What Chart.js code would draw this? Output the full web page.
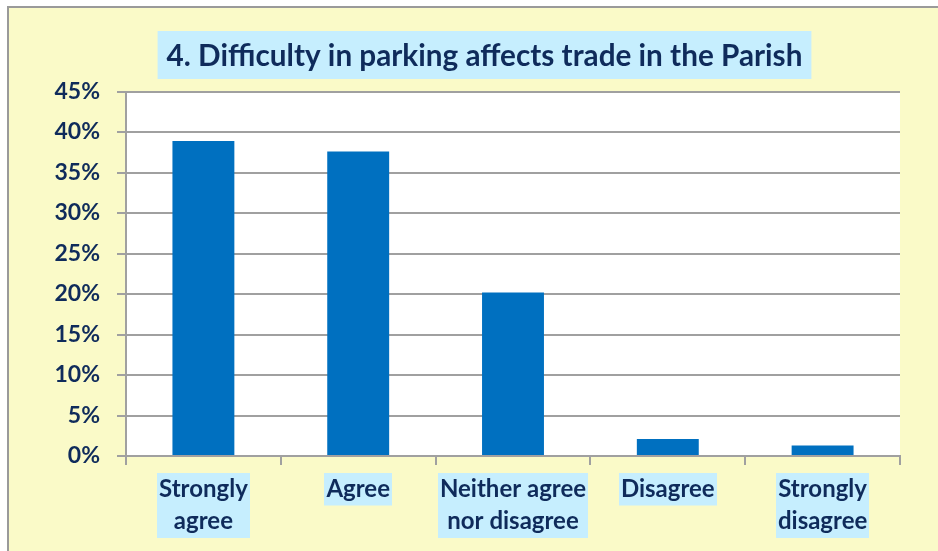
<!DOCTYPE html>
<html>
<head>
<meta charset="utf-8">
<script src="https://cdn.jsdelivr.net/npm/chart.js@4.4.1/dist/chart.umd.min.js"></script>
<style>
  html, body { margin: 0; padding: 0; background: #ffffff; }
  #wrap { width: 938px; height: 551px; position: relative; }
</style>
</head>
<body>
<div id="wrap"><canvas id="c" width="938" height="551"></canvas></div>
<script>
const chartTitle = '4. Difficulty in parking affects trade in the Parish';
const categories = [
  ['Strongly', 'agree'],
  ['Agree'],
  ['Neither agree', 'nor disagree'],
  ['Disagree'],
  ['Strongly', 'disagree']
];
const percentValues = [38.9, 37.6, 20.2, 2.1, 1.3];
const yTickMax = 45;
const yTickStep = 5;

const NAVY = '#0F2B5B';
const YELLOW = '#FAFAC8';
const CYAN = '#C6EEFE';
const GRID = '#A0A0A0';
const FONT = 'Lato, "Open Sans", sans-serif';
const XFONT_SIZE = 24;
const XLINE = 32.5;
const XPAD = 8;
const XTICK = 9;

const decor = {
  id: 'decor',
  beforeDraw(chart) {
    const ctx = chart.ctx;
    const W = chart.width, H = chart.height;
    ctx.save();
    ctx.fillStyle = '#ffffff';
    ctx.fillRect(0, 0, W, H);
    ctx.fillStyle = YELLOW;
    ctx.fillRect(8, 7, W, H);
    ctx.strokeStyle = '#9A9A9A';
    ctx.lineWidth = 2;
    ctx.beginPath();
    ctx.moveTo(8, H + 5);
    ctx.lineTo(8, 7);
    ctx.lineTo(W + 5, 7);
    ctx.stroke();
    const a = chart.chartArea;
    ctx.fillStyle = '#ffffff';
    ctx.fillRect(a.left, a.top, a.right - a.left, a.bottom - a.top);
    // category label boxes
    const xs = chart.scales.x;
    ctx.font = 'bold ' + XFONT_SIZE + 'px ' + FONT;
    ctx.fillStyle = CYAN;
    categories.forEach((lines, i) => {
      const px = xs.getPixelForTick(i);
      const w = Math.max(...lines.map(l => ctx.measureText(l).width));
      const top = a.bottom + XTICK + XPAD;
      ctx.fillRect(Math.round(px - w / 2 - 2), top, Math.round(w + 4), lines.length * XLINE);
    });
    // title
    ctx.font = 'bold 100px ' + FONT;
    const w100 = ctx.measureText(chartTitle).width;
    const size = 100 * 636 / w100;
    ctx.font = 'bold ' + size.toFixed(2) + 'px ' + FONT;
    const tw = ctx.measureText(chartTitle).width;
    const cx = 484.5;
    ctx.fillStyle = CYAN;
    ctx.fillRect(cx - tw / 2 - 9, 31, tw + 18, 48);
    ctx.fillStyle = NAVY;
    ctx.textAlign = 'center';
    ctx.textBaseline = 'middle';
    ctx.fillText(chartTitle, cx, 56);
    ctx.restore();
  }
};

new Chart(document.getElementById('c'), {
  type: 'bar',
  data: {
    labels: categories,
    datasets: [{
      data: percentValues,
      backgroundColor: '#0070C0',
      borderWidth: 0,
      barPercentage: 0.4,
      categoryPercentage: 1.0
    }]
  },
  options: {
    responsive: false,
    animation: false,
    devicePixelRatio: 1,
    layout: { padding: { top: 91.5, right: 38, left: 0, bottom: 0 } },
    plugins: {
      legend: { display: false },
      title: { display: false },
      tooltip: { enabled: false }
    },
    scales: {
      x: {
        afterFit(s) { s.height = 95; },
        grid: {
          offset: true,
          drawOnChartArea: false,
          drawTicks: true,
          tickLength: XTICK,
          color: GRID,
          lineWidth: 2
        },
        border: { color: GRID, width: 2 },
        ticks: {
          color: NAVY,
          font: { family: FONT, size: XFONT_SIZE, weight: 'bold', lineHeight: XLINE + 'px' },
          padding: XPAD,
          maxRotation: 0,
          autoSkip: false
        }
      },
      y: {
        afterFit(s) { s.width = 126; },
        min: 0,
        max: yTickMax,
        grid: {
          color: GRID,
          lineWidth: 2,
          drawTicks: true,
          tickLength: 9
        },
        border: { color: GRID, width: 2 },
        ticks: {
          stepSize: yTickStep,
          color: NAVY,
          padding: 17,
          font: { family: FONT, size: 23, weight: 'bold' },
          callback: v => v + '%'
        }
      }
    }
  },
  plugins: [decor]
});
</script>
</body>
</html>
